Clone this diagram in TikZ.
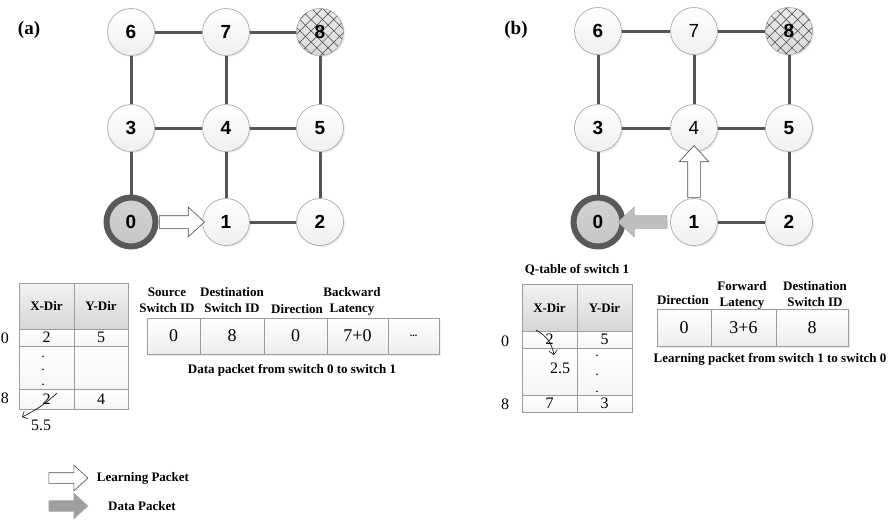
\documentclass[tikz,border=0pt]{standalone}
\usepackage{fontspec}
\setmainfont{Liberation Serif}
\setsansfont{Liberation Sans}
\usetikzlibrary{shapes.arrows,patterns.meta,shadows,calc,arrows.meta}

\definecolor{linkgray}{HTML}{555555}
\definecolor{ringgray}{HTML}{595959}
\definecolor{nodeline}{HTML}{A8A8A8}
\definecolor{cellline}{HTML}{9C9C9C}

\tikzset{
	switch/.style={circle, draw=nodeline, line width=0.7pt, inner sep=0pt,
		minimum size=47pt, top color=white, bottom color=gray!12,
		font=\sffamily\bfseries\fontsize{19}{19}\selectfont,
		drop shadow={shadow xshift=1.5pt,shadow yshift=-1.5pt,opacity=0.15}},
	plain/.style={font=\sffamily\fontsize{19}{19}\selectfont},
	source/.style={switch, draw=ringgray, line width=6pt, minimum size=49pt,
		top color=gray!35, bottom color=gray!45},
	target/.style={switch, top color=gray!18, bottom color=gray!28,
		postaction={pattern={Lines[angle=45,distance=8pt,line width=0.5pt]},pattern color=black!75},
		postaction={pattern={Lines[angle=-45,distance=8pt,line width=0.5pt]},pattern color=black!75}},
	link/.style={draw=linkgray, line width=3pt},
	larrow/.style={single arrow, draw=gray!60!black, line width=0.6pt, fill=white,
		inner sep=6pt, text height=0pt, text depth=0pt, text width=0pt,
		minimum width=29pt, single arrow head extend=8.5pt, single arrow tip angle=85},
	darrow/.style={larrow, fill=gray!50, draw=gray!65},
	qhead/.style={rectangle, draw=cellline, line width=0.6pt, inner sep=0pt,
		top color=gray!10, bottom color=gray!32,
		font=\bfseries\fontsize{13}{15}\selectfont},
	qcell/.style={rectangle, draw=cellline, line width=0.6pt, inner sep=0pt,
		top color=white, bottom color=gray!8, font=\fontsize{16}{16}\selectfont},
	pcell/.style={qcell, minimum height=36pt, top color=white, bottom color=gray!14,
		font=\fontsize{18}{18}\selectfont,
		drop shadow={shadow xshift=2pt,shadow yshift=-2pt,opacity=0.15}},
	phead/.style={font=\bfseries\fontsize{13}{16}\selectfont, align=center, inner sep=0pt},
	dot/.style={font=\fontsize{14}{14}\selectfont, inner sep=0pt},
	rowno/.style={font=\fontsize{16}{16}\selectfont, inner sep=0pt},
	panel/.style={font=\bfseries\fontsize{19}{19}\selectfont, inner sep=0pt}
}

\begin{document}
\begin{tikzpicture}[x=1pt, y=-1pt]
	\useasboundingbox (0,0) rectangle (890,523);

	%% (a) the mesh
	\node[panel] (pa) at (29,30) {(a)};
	\node[switch] (a6) at (131,32) {6};
	\node[switch] (a7) at (226,32) {7};
	\node[target] (a8) at (320,32) {8};
	\node[switch] (a3) at (131,128) {3};
	\node[switch] (a4) at (226,128) {4};
	\node[switch] (a5) at (320,128) {5};
	\node[source] (a0) at (131,222) {0};
	\node[switch] (a1) at (226,222) {1};
	\node[switch] (a2) at (320,222) {2};
	\draw[link] (a6) -- (a7) (a7) -- (a8) (a3) -- (a4) (a4) -- (a5) (a1) -- (a2);
	\draw[link] (a0) -- (a3) (a3) -- (a6) (a1) -- (a4) (a4) -- (a7) (a2) -- (a5) (a5) -- (a8);
	\node[larrow, minimum height=45pt] (ea) at ($(a0)!0.5!(a1)$) {};

	%% (a) Q-table
	\node[qhead, minimum width=55pt, minimum height=46pt] (qaX) at (46.5,306) {X-Dir};
	\node[qhead, minimum width=54pt, minimum height=46pt] (qaY) at (101,306) {Y-Dir};
	\node[qcell, minimum width=55pt, minimum height=17pt] (qa0x) at (46.5,337.5) {2};
	\node[qcell, minimum width=54pt, minimum height=17pt] (qa0y) at (101,337.5) {5};
	\node[qcell, minimum width=55pt, minimum height=43pt] (qamx) at (46.5,367.5) {};
	\node[qcell, minimum width=54pt, minimum height=43pt] (qamy) at (101,367.5) {};
	\node[qcell, minimum width=55pt, minimum height=20pt] (qa8x) at (46.5,399) {2};
	\node[qcell, minimum width=54pt, minimum height=20pt] (qa8y) at (101,399) {4};
	\node[dot] (qad1) at (43,357) {.};
	\node[dot] (qad2) at (43,370) {.};
	\node[dot] (qad3) at (43,385) {.};
	\node[rowno] (ra0) at (5,338) {0};
	\node[rowno] (ra8) at (5,398) {8};
	\coordinate (ua) at (57,393);
	\coordinate (va) at (22,417);
	\draw[-{Straight Barb[length=4pt,width=8pt]}, line width=0.6pt] (ua) to[bend left=8] (va);
	\node[rowno] (na) at (41,425) {5.5};

	%% (a) data packet
	\node[pcell, minimum width=53pt] (da1) at (173.5,336) {0};
	\node[pcell, minimum width=64pt] (da2) at (232,336) {8};
	\node[pcell, minimum width=63pt] (da3) at (295.5,336) {0};
	\node[pcell, minimum width=61pt] (da4) at (357.5,336) {7+0};
	\node[pcell, minimum width=51pt] (da5) at (413.5,336) {\bfseries\fontsize{10}{10}\selectfont ...};
	\node[phead] (ha1) at (167,300) {Source\\Switch ID};
	\node[phead] (ha2) at (232,300) {Destination\\Switch ID};
	\node[phead] (ha3) at (297,309) {Direction};
	\node[phead] (ha4) at (352,301) {Backward\\Latency};
	\node[phead] (ca) at (292,370) {Data packet from switch 0 to switch 1};

	%% (b) the mesh
	\node[panel] (pb) at (516,30) {(b)};
	\node[switch] (b6) at (598,31) {6};
	\node[switch, plain] (b7) at (694,31) {7};
	\node[target] (b8) at (789,31) {8};
	\node[switch] (b3) at (598,128) {3};
	\node[switch, plain] (b4) at (694,128) {4};
	\node[switch] (b5) at (789,128) {5};
	\node[source] (b0) at (598,222) {0};
	\node[switch] (b1) at (694,222) {1};
	\node[switch] (b2) at (789,222) {2};
	\draw[link] (b6) -- (b7) (b7) -- (b8) (b3) -- (b4) (b4) -- (b5) (b1) -- (b2);
	\draw[link] (b0) -- (b3) (b3) -- (b6) (b4) -- (b7) (b2) -- (b5) (b5) -- (b8);
	\node[larrow, minimum height=52pt, shape border rotate=90] (eb) at ($(b1)!0.5!(b4)$) {};
	\node[darrow, minimum height=49pt, shape border rotate=180] (fb) at ($(b1)!0.5!(b0)$) {};

	%% (b) Q-table
	\node[phead] (tb) at (577,270) {Q-table of switch 1};
	\node[qhead, minimum width=55pt, minimum height=47pt] (qbX) at (549.5,307.5) {X-Dir};
	\node[qhead, minimum width=55pt, minimum height=47pt] (qbY) at (604.5,307.5) {Y-Dir};
	\node[qcell, minimum width=55pt, minimum height=17pt] (qb0x) at (549.5,339.5) {2};
	\node[qcell, minimum width=55pt, minimum height=17pt] (qb0y) at (604.5,339.5) {5};
	\node[qcell, minimum width=55pt, minimum height=47pt] (qbmx) at (549.5,371.5) {};
	\node[qcell, minimum width=55pt, minimum height=47pt] (qbmy) at (604.5,371.5) {};
	\node[qcell, minimum width=55pt, minimum height=17pt] (qb8x) at (549.5,403.5) {7};
	\node[qcell, minimum width=55pt, minimum height=17pt] (qb8y) at (604.5,403.5) {3};
	\node[rowno] (nb) at (560,368) {2.5};
	\node[dot] (qbd1) at (597,356) {.};
	\node[dot] (qbd2) at (597,375) {.};
	\node[dot] (qbd3) at (597,392) {.};
	\node[rowno] (rb0) at (505,341) {0};
	\node[rowno] (rb8) at (505,404) {8};
	\coordinate (ub) at (536,330);
	\coordinate (vb) at (554,355);
	\draw[-{Straight Barb[length=4pt,width=8pt]}, line width=0.6pt] (ub) to[bend left=25] (vb);

	%% (b) learning packet
	\node[pcell, minimum width=54pt, minimum height=37pt] (lb1) at (684,327.5) {0};
	\node[pcell, minimum width=65pt, minimum height=37pt] (lb2) at (743.5,327.5) {3+6};
	\node[pcell, minimum width=72pt, minimum height=37pt] (lb3) at (812,327.5) {8};
	\node[phead] (hb1) at (683,300) {Direction};
	\node[phead] (hb2) at (742,295.5) {Forward\\Latency};
	\node[phead] (hb3) at (815,294) {Destination\\Switch ID};
	\node[phead] (cb) at (770,359) {Learning packet from switch 1 to switch 0};

	%% legend
	\node[larrow, minimum height=39pt, minimum width=25pt, inner sep=5pt, single arrow head extend=7.5pt] (kl) at (65.5,478) {};
	\node[darrow, fill=gray!75, minimum height=39pt, minimum width=25pt, inner sep=5pt, single arrow head extend=7.5pt] (kd) at (65.5,506) {};
	\node[phead] (tl) at (143,478) {Learning Packet};
	\node[phead] (td) at (142,506) {Data Packet};
\end{tikzpicture}
\end{document}
